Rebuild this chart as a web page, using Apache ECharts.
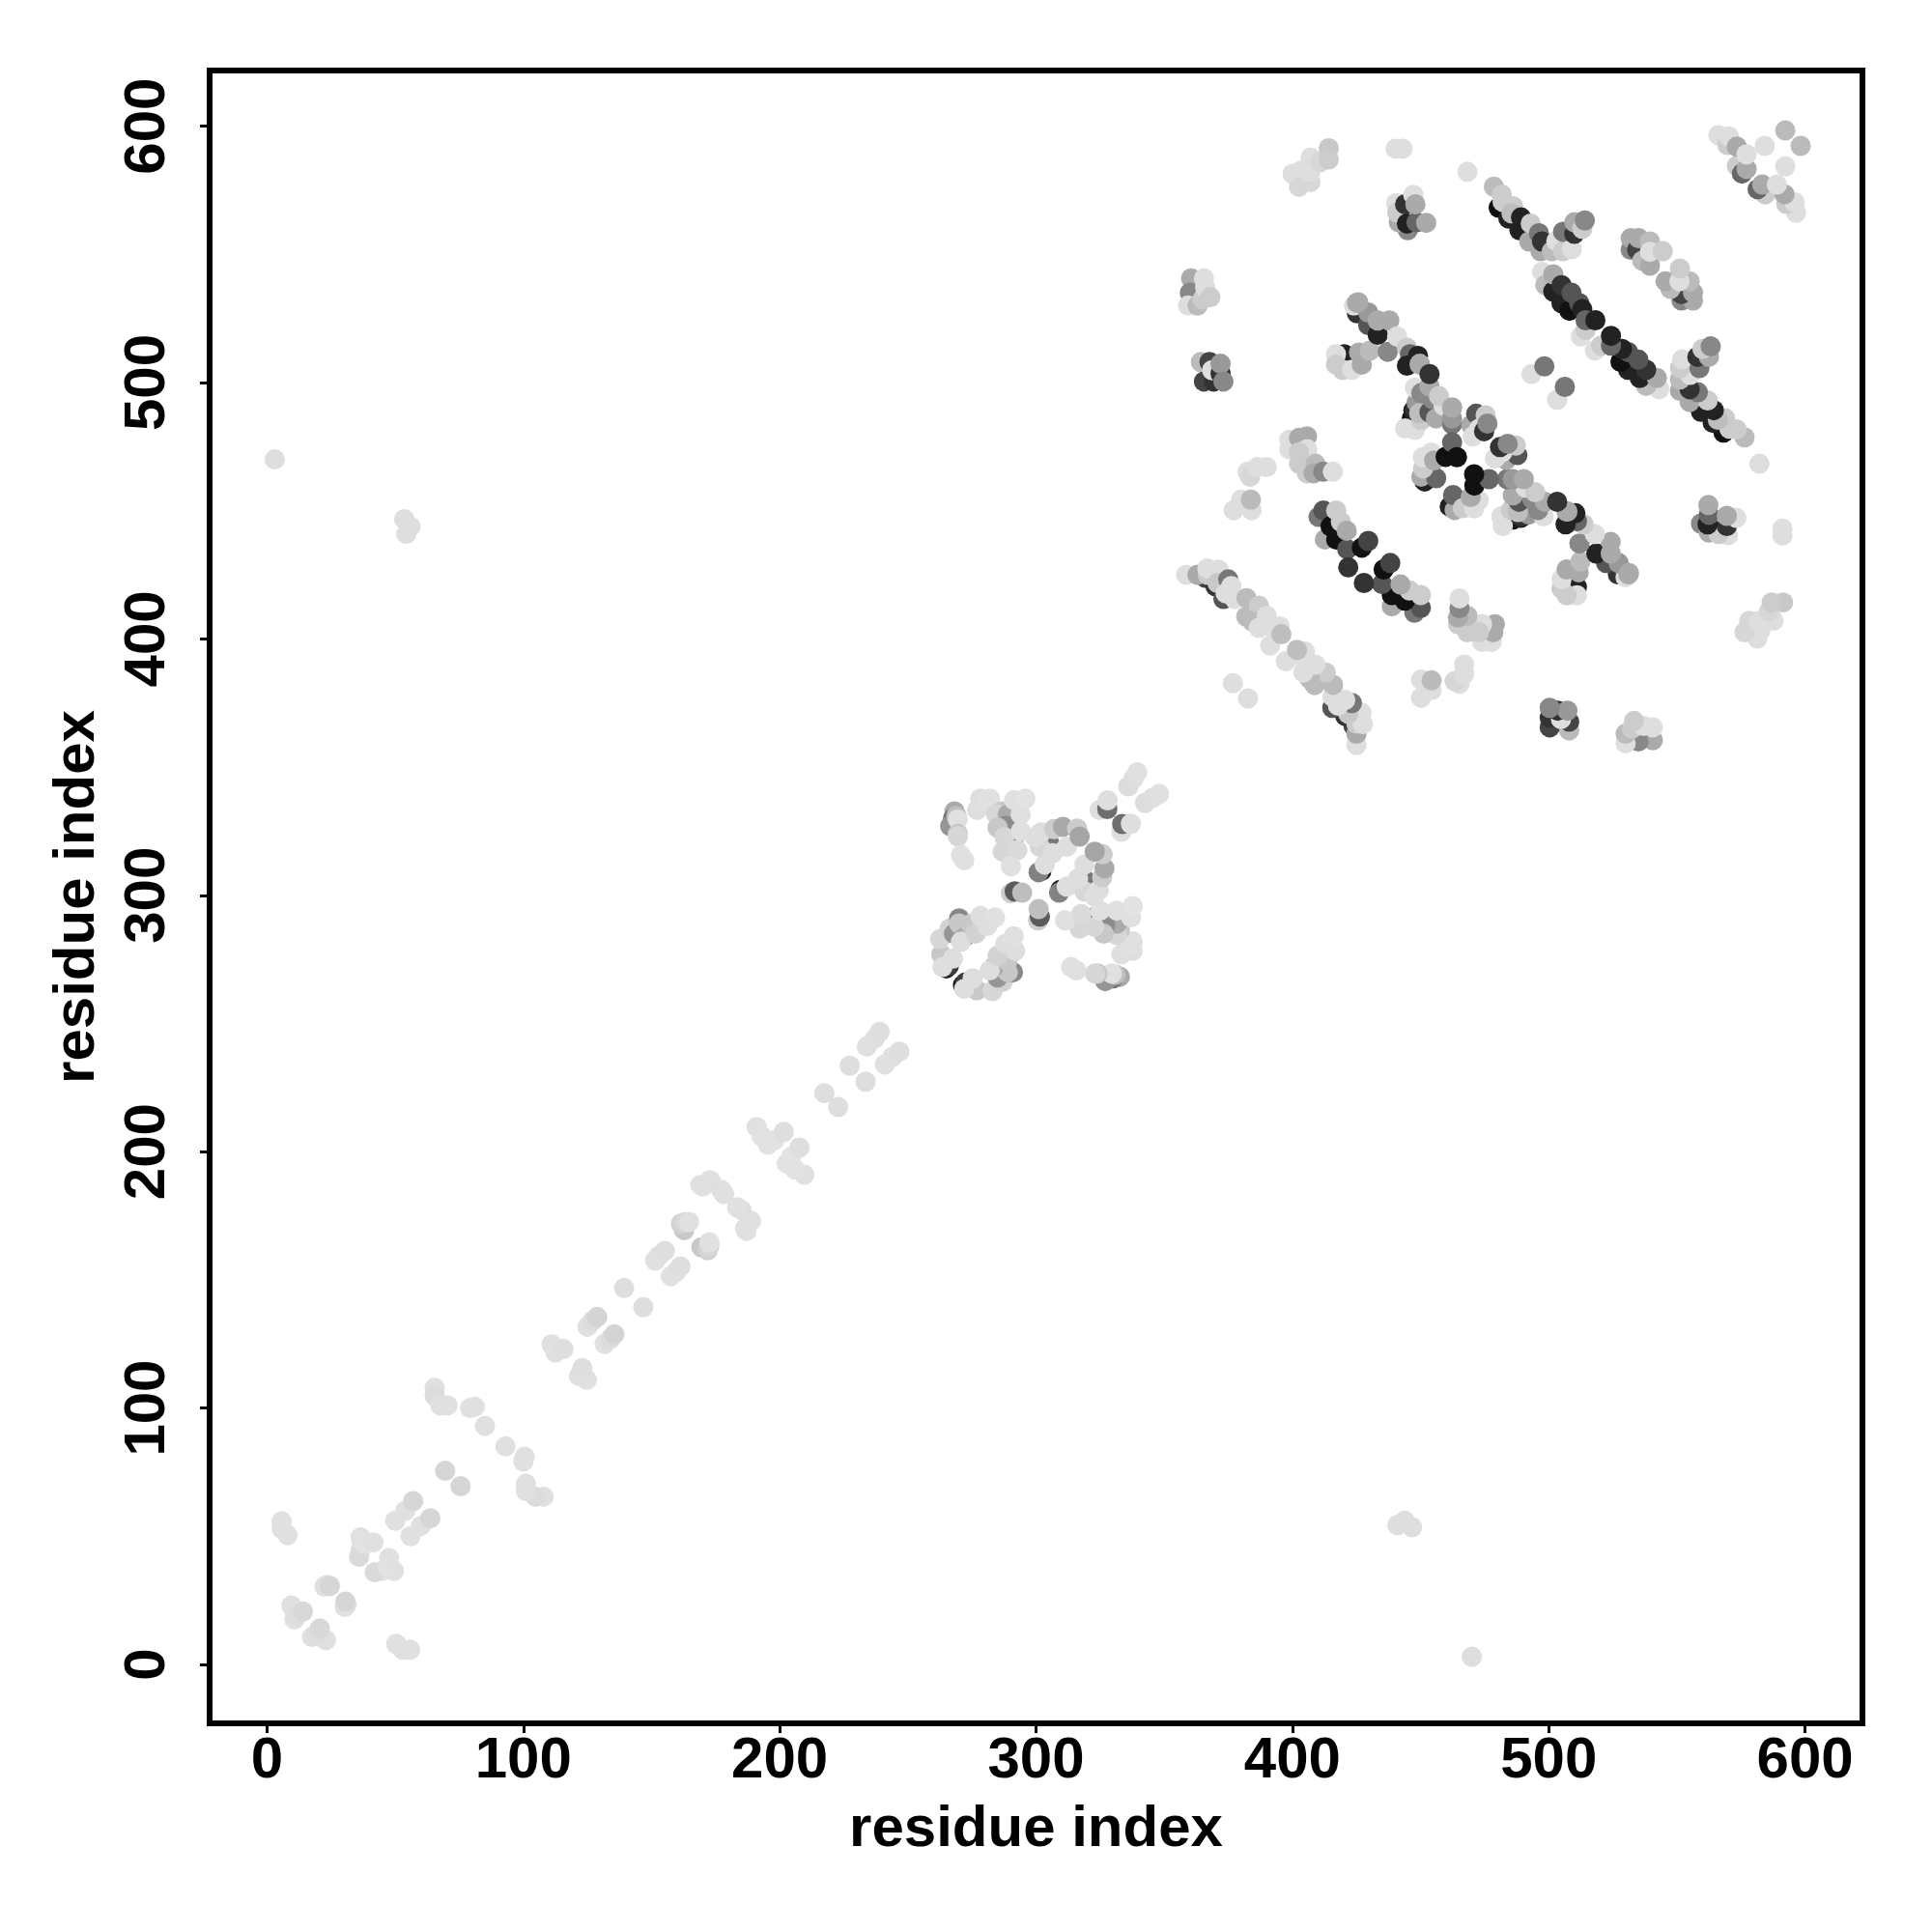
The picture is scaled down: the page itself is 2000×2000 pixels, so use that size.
<!DOCTYPE html>
<html><head><meta charset="utf-8">
<style>html,body{margin:0;padding:0;background:#fff}#c{width:2000px;height:2000px}</style>
<script src="https://cdn.jsdelivr.net/npm/echarts@6/dist/echarts.min.js"></script>
</head><body><div id="c"></div>
<script>
// Each row: residue i, residue j (i<j), gray level of the contact. Contact maps are symmetric: drawn at (i,j) and (j,i).
const tickValues = [0,100,200,300,400,500,600];
const axisTitle = 'residue index';
const lowContacts = [
[3,470,222],[53.5,446.7,222],[54.3,441,222],[56,443.8,222],
[5.7,55.8,224],[5.7,53,224],[8,50.4,224],
[10.7,17.5,224],[9.5,23,224],[10.7,21,224],[11.5,19,222],[14,20.6,216],
[22.4,30.3,224],[23.3,31,224],[24.5,30.6,214],
[36.5,49.5,224],[36.5,45,224],[35.9,42,218],[38,47,226],[41.5,47.6,224],
[50,56,224],[54,60,224],[57,63.7,214],[69.5,75.5,214],
[65.4,107.9,224],[65.4,104.8,220],[67.6,101,224],[70.4,101,224],
[79.2,100,224],[81,100.5,224],[85,93,224],
[111,124.8,224],[112.5,121.7,224],[115.6,123,222],
[125,131.7,224],[127,134,220],[128.8,135.5,212],[139.3,146.8,222],
[151.4,157.5,224],[153,159.5,224],[155.2,161.3,222],
[162.7,169.4,200],[161.5,171.9,210],[163,172.5,215],[164.6,172.6,224],
[169,187,226],[172.8,188.9,226],[170,186.5,224],[173.2,188.4,224],[177.2,185.1,222],[178.3,183.4,224],
[191,209.6,224],[193,206,226],[195.4,202.7,226],[198,204.5,226],[201.6,207.7,222],
[217.4,222.8,222],[227.3,233.5,222],
[234,241,224],[237,244,224],[239,246.7,222]
];
const midContacts = [
[265,271.5,30],[266,272.5,60],[264.5,275,34],[263,276.9,200],[263.5,272,222],
[262.6,283,215],[266.3,287,210],[268,285,150],[270,291,136],[270,289,200],[272,283.5,170],[270.7,281.9,222],[267.6,275.3,222],
[274.5,288.8,200],[276.4,285,210],[278.3,291.9,222],[281,288,222],[284,291.3,224],
[268.2,332.7,170],[267.6,330,120],[266.5,327,150],[269,331,190],[269.5,329.6,224],[269.5,324,200],[269.5,323,215],[270.7,315.7,224],[272,313.7,224],
[277,333.3,222],[278.3,337.7,222],[280.2,336.5,224],[282,337.7,224],
[286.5,332.7,200],[284.5,331.5,215],[289,331.5,170],[288.3,327,140],[285,326.4,200],[291.4,322.7,120],[287.7,322.7,215],[287,317,215],[292.7,317.6,218],[294,325,224],[294,331.5,224],[290.2,311.3,224],[291.4,337.1,224],[295.8,337.7,226],
[302.1,309.5,30],[301,309,130],[303.4,312,222],[305.3,320,120],[301.5,318.9,215],[299.6,322.7,222],[302,324.5,222],[307,325.8,204],[306.5,316.4,222],[310.5,326.7,170],[312,318.9,222],[316,326,204],[317,322.9,165],
[290.2,300.8,204],[291.7,301.5,90],[294.6,301,190],
[324.8,333.3,222],[327.8,333.6,110],[327.9,337,222],
[336,342.5,220],[338,345.5,222],[339.5,348,224]
];
const sheetS = [
[366.2,423.8,68],[370,420.6,51],[373.1,415.6,85],
[358.6,425,222],[363,425,170],[367,425,204],[366.8,427.5,222],[371.2,427,222],[370.8,421.8,200],[375,423.2,119],[374,417.8,222],[376.2,420.6,222],[377.5,415.6,222],
[382.1,415.9,187],[382,408.7,187],[386.9,413,204],[384.4,406.8,187],[386.9,404.3,222],[390,409,222],[391.3,405,222],[391.3,397.4,222],[395.1,404.9,222],[395.7,401.8,190],
[376.8,382.7,222]
];
const sheetE = [
[363.7,534,34],[360.5,540.6,170],[360,535,136],[359.3,530,222],[363,530,187],[365,532.5,204],[365.5,540.6,222],[366,537,222],[368,533.3,204],
[364.3,508,187],[367.7,508,68],[365.5,500.4,68],[369.3,500.4,51],[368.7,504.8,222],[372,503.5,51],[372,507.3,153],[373.1,500.4,136]
];
const sheetO = [
[377.1,450.2,222],[384.1,450.2,222],[380,454.3,222],[383.8,454.3,187],
[382.5,465.2,222],[383.5,463.3,215],[386.3,467,222],[390,467,222],
[398.8,477.7,222],[398.8,474,222],[402.6,478.4,170],[405.7,479,170],[405.8,474,222],[402.6,472.8,204],[402.6,468.3,204],[405.7,464.6,204],[409,468.3,187],[408.3,464.6,170],[412,465.2,136],[415.8,465.2,222],
[400.1,581.4,222],[403.3,582.6,222],[402.6,576.4,215],[407,578.2,215],[407,582,222],[407.1,587.7,222],[410.8,586,215],[414.2,591.4,200],[414.2,587,204]
];
const sheetR = [
[412.7,438.8,170],[410.2,447.6,119],[412.1,450.1,85],[414.9,443.9,17],[417.1,438.8,17],[417.1,450.1,204],[418.9,445.7,204],[421.4,435,85],[421.2,442.2,170],[427.1,435.6,17],[429.6,438.2,68],[421.8,427.9,51],
[420.2,511,34],[417,511,222],[417,507,204],[419.6,505,204],[423.3,505,222],[426,511.7,170],[427.1,507,170],[430.2,512.4,187]
];
const sheetH = [
[425.2,527,51],[424,530,222],[425.2,531.1,170],[429.6,522.4,85],[429.6,527.3,153],[433.3,518.6,34],[433.3,524.2,170],[437.8,524.2,170],
[425.7,531.3,170],[437.2,512,136],[440.9,518,222],[444.7,513.6,204],[445.9,511,102],[449,510.4,34],[444.7,506.6,34],[449.7,507,170],
[440.3,591.2,222],[443,591.2,222],[468.3,582.2,222],
[445,559.4,136],[441.5,562.5,170],[440.5,570,222],[440.9,566.3,204],[444,569.5,51],[444.7,562,34],[447.2,573.2,222],[448.4,562.5,102],[452.2,562.3,170],[448,569.5,170],
[446.6,486,17],[447.2,489.1,34],[448,489,51],[444,482.1,222],[447.8,481.5,222],[448.5,492.2,153],[450.3,485.3,204],[449.5,488,190],[453.5,488.4,85],[447.8,498,222],[450.3,495.9,136],[454.7,493.5,136],[453.5,498.5,170],[449.7,507.3,170],[456,486,170],[459,491,222],[457.2,494.7,204],[462.3,483.8,119],[462.3,486,153],[462.3,490.3,170],[453.5,503.3,51]
];
const sheetW = [
[469.8,483.4,170],[470.4,479,222],[471.7,487.8,85],[472.9,482,222],[474.8,481,51],[475.4,487.2,204],[476.1,484,136],
[451.6,461.4,34],[450.3,463.3,170],[456.1,462.7,102],[451,466.5,204],[450.9,470.9,222],[454.1,472.7,222],[455.3,469.6,170],[459.8,471,17],[462.3,476.7,102],[464.2,470.9,17]
];
const sheetI = [
[480.5,568.2,17],[484.3,564,34],[488.6,559.4,34],
[478.6,576.4,187],[481.7,573.3,204],[482,570.5,205],[486.1,568.8,204],[485.5,566,190],[489.2,564.4,34],[492.4,555,170],[493,562,204],[496.2,558.2,119],[496.8,551.2,170],[497.4,555,51],
[501.2,551.2,187],[503,555.2,222],[505.6,551.2,204],[505.6,558.8,119],[509,552,222],[510,558,51],[510,562.5,170],[513.1,560,204],[514.1,563.2,136],
[493.3,503.3,222],[498.3,506.3,119]
];
const sheetL = [
[497.4,543.1,222],[498.7,538,187],[501.8,535.5,34],[501.8,542.2,170],[505,531,34],[505,538,51],[508.1,528,17],[508.9,535,85],[511.9,531,85],[512.5,518,222],[513.1,528.6,34],[514.4,520.5,204],[514.4,524.3,102],[518.2,524.3,34]
];
const sheetJ = [
[532,551.8,136],[532,556.3,170],[534.5,551.8,68],[535.1,556.3,170],[536.5,547.5,187],[539.5,545.6,170],[539.5,555,187],[539.5,551,222],[544.5,551.2,204],
[566.2,596.5,222],[569.7,592.7,204],[570.3,596,222],[573.4,584.5,204],[575.4,581.5,102],[573.4,592,170],[577.2,583.3,170],[577.2,589,222],[584.3,592.3,222],[592.3,598.3,187]
];
const contacts = [].concat(lowContacts, midContacts, sheetS, sheetE, sheetO, sheetR, sheetH, sheetW, sheetI, sheetL, sheetJ);
const points = [];
contacts.forEach(function(c){ points.push([c[0],c[1],c[2]]); points.push([c[1],c[0],c[2]]); });

function axis(minV, maxV, nameRot, labelRot, gap, labelMargin){
  return {
    type:'value', min:minV, max:maxV, name:axisTitle, nameLocation:'middle', nameGap:gap, nameRotate:nameRot,
    nameTextStyle:{fontFamily:'Liberation Sans',fontWeight:'bold',fontSize:60,color:'#000'},
    axisLine:{show:true,onZero:false,lineStyle:{color:'#000',width:6}},
    axisTick:{show:true,length:10,lineStyle:{color:'#000',width:3},customValues:tickValues},
    axisLabel:{show:true,rotate:labelRot,margin:labelMargin,fontFamily:'Liberation Sans',fontWeight:'bold',fontSize:60,color:'#000',customValues:tickValues,showMinLabel:true,showMaxLabel:true,hideOverlap:false},
    splitLine:{show:false}
  };
}
const chart = echarts.init(document.getElementById('c'),null,{renderer:'canvas'});
chart.setOption({
  backgroundColor:'#fff', animation:false,
  grid:{left:217,top:73,width:1711,height:1711,show:true,borderColor:'#000',borderWidth:6,backgroundColor:'transparent'},
  xAxis:axis(-22.4,622.4,0,0,80,9),
  yAxis:axis(-23,621.7,90,90,107,34),
  series:[{type:'scatter',symbol:'circle',symbolSize:21,data:points,silent:true,large:false,
    itemStyle:{opacity:1,color:function(p){var g=Math.round(p.value[2]);return 'rgb('+g+','+g+','+g+')';}}}]
});
</script></body></html>
